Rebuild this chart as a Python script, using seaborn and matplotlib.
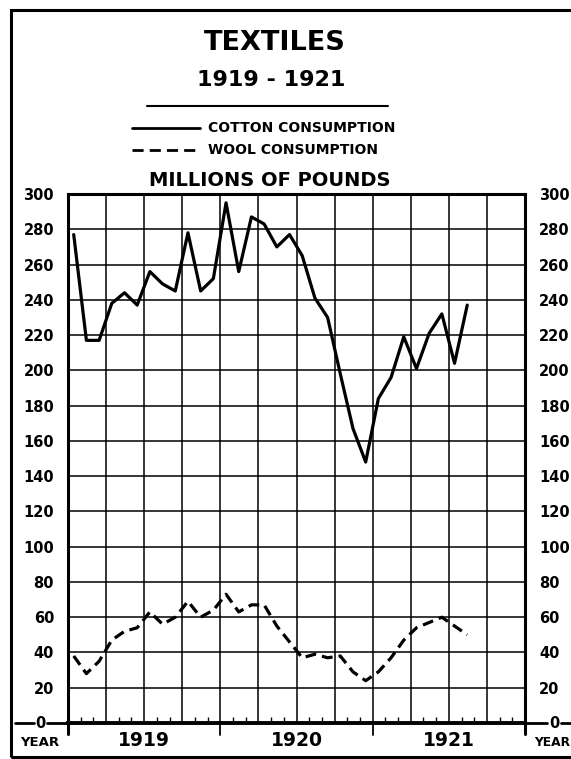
import numpy as np
import pandas as pd
import matplotlib
matplotlib.use("Agg")
import matplotlib.pyplot as plt
import seaborn as sns
from matplotlib.lines import Line2D
from matplotlib.patches import Rectangle

sns.set_style("white")
plt.rcParams['font.family'] = ['DejaVu Sans']
plt.rcParams['text.color'] = 'black'
plt.rcParams['xtick.color'] = 'black'
plt.rcParams['ytick.color'] = 'black'

# === Data (monthly, Jan 1919 - Aug 1921) ===
years = ['1919', '1920', '1921']
cotton = [277, 217, 217, 238, 244, 237, 256, 249, 245, 278, 245, 252,
          295, 256, 287, 283, 270, 277, 265, 241, 230, 198, 167, 148,
          184, 196, 219, 201, 221, 232, 204, 237]
wool = [38, 28, 35, 47, 52, 54, 63, 56, 60, 69, 60, 64,
        73, 63, 67, 67, 55, 46, 37, 39, 37, 38, 29, 24,
        29, 37, 47, 54, 57, 60, 55, 50]
y_ticks = list(range(0, 301, 20))

months = np.arange(len(cotton)) + 0.45
df = pd.DataFrame({
    'month': np.concatenate([months, months]),
    'value': cotton + wool,
    'series': ['Cotton'] * len(cotton) + ['Wool'] * len(wool),
})

W, H = 571, 759
fig = plt.figure(figsize=(W / 100, H / 100), dpi=100)
ax = fig.add_axes([68 / W, 1 - 723 / H, (525 - 68) / W, (723 - 194) / H])

sns.lineplot(data=df, x='month', y='value', style='series',
             dashes={'Cotton': '', 'Wool': (3.4, 1.9)},
             color='black', linewidth=2.3, legend=False, ax=ax)

ax.set_xlim(0, 36)
ax.set_ylim(0, 300)
ax.set_xlabel('')
ax.set_ylabel('')

# grid: quarters and 20-unit steps
ax.set_xticks(np.arange(0, 37, 3))
ax.set_xticks(np.arange(0, 37, 1), minor=True)
ax.set_xticklabels([])
ax.set_yticks(y_ticks)
labels = [str(v) if v else '' for v in y_ticks]
ax.set_yticklabels(labels)
ax.grid(True, which='major', color='black', linewidth=1.1)
ax.tick_params(axis='x', which='major', length=0)
ax.tick_params(axis='x', which='minor', direction='in', length=4, width=1, bottom=True, top=False)
ax.tick_params(axis='y', which='major', length=0, labelleft=True, labelright=True,
               labelsize=10.5, pad=10)
for lab in ax.get_yticklabels():
    lab.set_fontweight('bold')

for s in ax.spines.values():
    s.set_color('black')
    s.set_linewidth(2.2)
ax.spines['bottom'].set_linewidth(2.8)

# year dividers extend below the axis
for yr_edge in [12, 24]:
    ax.plot([yr_edge, yr_edge], [0, -7], color='black', lw=1.3, clip_on=False)
for edge in [0, 36]:
    ax.plot([edge, edge], [0, -6], color='black', lw=2.2, clip_on=False)

# year labels
for i, yr in enumerate(years):
    ax.text(i * 12 + 6, -10, yr, ha='center', va='center',
            fontsize=13.5, fontweight='bold')

# zero labels and baseline extension
fig.text(40 / W, 1 - 723 / H, '0', ha='center', va='center', fontsize=10.5, fontweight='bold')
fig.text(554 / W, 1 - 723 / H, '0', ha='center', va='center', fontsize=10.5, fontweight='bold')
for x0, x1 in [(15, 34), (47, 66), (526, 547), (561, 571)]:
    fig.add_artist(Line2D([x0 / W, x1 / W], [1 - 723 / H] * 2, color='black', lw=2.0))
fig.text(40 / W, 1 - 742 / H, 'YEAR', ha='center', va='center', fontsize=9.5, fontweight='bold')
fig.text(534 / W, 1 - 742 / H, 'YEAR', ha='left', va='center', fontsize=8.8, fontweight='bold')

# titles
fig.text(275 / W, 1 - 43 / H, 'TEXTILES', ha='center', va='center', fontsize=19.5, fontweight='bold')
fig.text(271 / W, 1 - 80 / H, '1919 - 1921', ha='center', va='center', fontsize=16, fontweight='bold')
fig.add_artist(Line2D([147 / W, 388 / W], [1 - 106 / H] * 2, color='black', lw=1.5))

# legend
fig.add_artist(Line2D([132 / W, 200 / W], [1 - 128 / H] * 2, color='black', lw=2.0))
fig.add_artist(Line2D([132 / W, 200 / W], [1 - 150 / H] * 2, color='black', lw=2.0,
                      dashes=(4, 2.2)))
fig.text(208 / W, 1 - 128 / H, 'COTTON CONSUMPTION', ha='left', va='center', fontsize=10, fontweight='bold')
fig.text(208 / W, 1 - 150 / H, 'WOOL CONSUMPTION', ha='left', va='center', fontsize=10, fontweight='bold')
fig.text(270 / W, 1 - 180 / H, 'MILLIONS OF POUNDS', ha='center', va='center', fontsize=14, fontweight='bold')

# outer frame
fig.add_artist(Rectangle((11 / W, 1 - 757 / H), 1.0, (757 - 10) / H,
                         transform=fig.transFigure, fill=False, edgecolor='black', lw=2.2))

fig.savefig('out.png', dpi=100)
